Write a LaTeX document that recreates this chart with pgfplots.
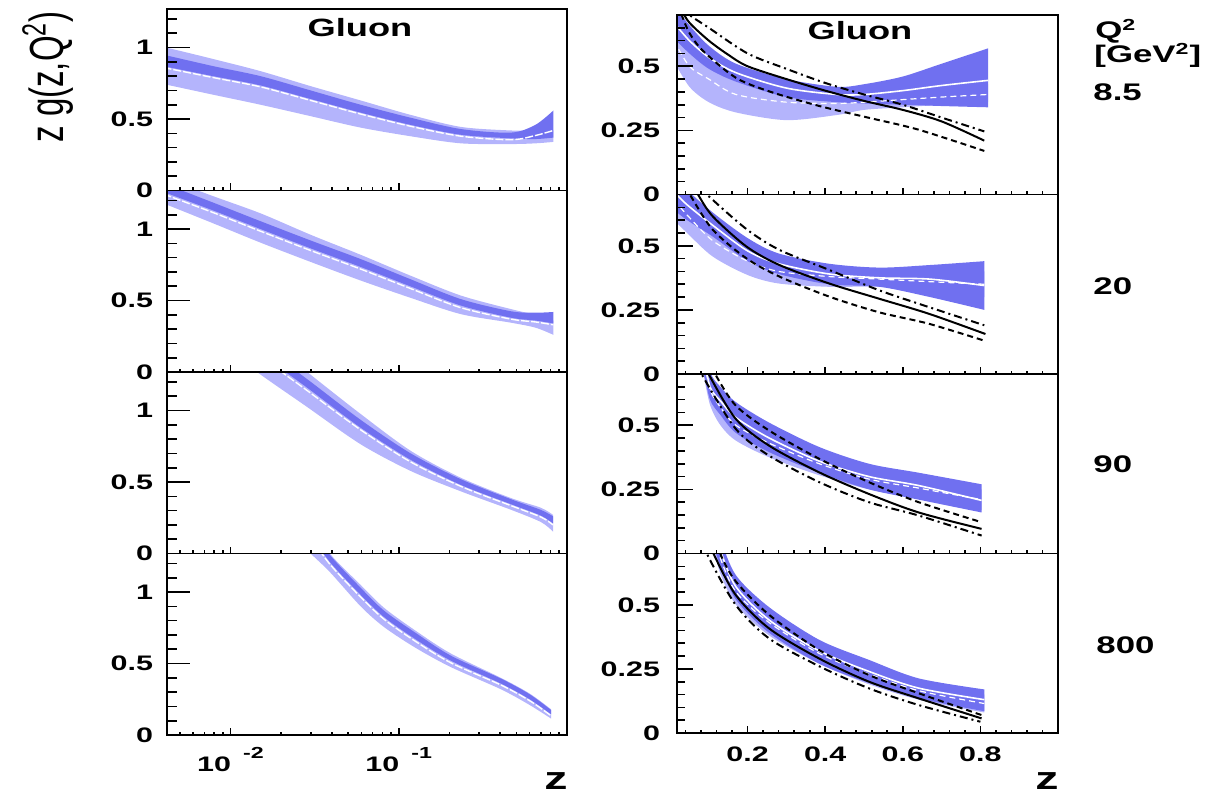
\documentclass[border=0pt]{standalone}
\usepackage{fontspec}
\setmainfont{Liberation Sans}[FakeStretch=1.45]
\newfontfamily\ylabfont{Liberation Sans}
\usepackage{graphicx}
\usepackage{pgfplots}
\pgfplotsset{compat=1.18}
\usepackage{pgfplotstable}
\usepgfplotslibrary{fillbetween}

\definecolor{lbc}{RGB}{180,180,252}
\definecolor{dbc}{RGB}{112,112,240}

% ---------- left column: x = log10(z) ----------
\pgfplotstableread{
lz llo lhi dlo dhi w
-2.398 0.745 1.005 0.87 0.95 0.86
-2.102 0.67  0.92  0.80 0.87 0.79
-1.821 0.60  0.835 0.735 0.80 0.725
-1.523 0.52  0.73  0.64 0.70 0.63
-1.226 0.44  0.63  0.545 0.60 0.535
-0.932 0.38  0.53  0.46 0.51 0.45
-0.631 0.33  0.445 0.39 0.43 0.38
-0.333 0.325 0.42  0.365 0.405 0.355
-0.187 0.33  0.42  0.36 0.46 0.385
-0.081 0.34  0.42  0.37 0.56 0.42
}\LA
\pgfplotstableread{
lz llo lhi dlo dhi w
-2.398 1.18  1.36  1.26 1.32 1.245
-2.102 1.04  1.23  1.13 1.185 1.115
-1.821 0.905 1.11  1.00 1.055 0.985
-1.523 0.77  0.96  0.865 0.92 0.85
-1.226 0.64  0.82  0.735 0.79 0.72
-0.932 0.52  0.675 0.60 0.65 0.585
-0.631 0.405 0.535 0.465 0.51 0.45
-0.333 0.345 0.44  0.38 0.425 0.37
-0.187 0.31  0.40  0.36 0.415 0.35
-0.081 0.26  0.36  0.34 0.42 0.33
}\LB
\pgfplotstableread{
lz llo lhi dlo dhi w
-1.921 1.36  1.70  1.55 1.62 1.52
-1.842 1.27  1.55  1.42 1.48 1.40
-1.544 1.025 1.27  1.16 1.22 1.14
-1.226 0.764 0.976 0.88 0.935 0.865
-0.928 0.577 0.718 0.655 0.70 0.64
-0.631 0.435 0.53  0.48 0.52 0.47
-0.333 0.306 0.388 0.345 0.38 0.335
-0.155 0.22  0.32  0.265 0.305 0.255
-0.083 0.153 0.27  0.21 0.26 0.20
}\LC
\pgfplotstableread{
lz llo lhi dlo dhi w
-1.585 1.36  1.60  1.48 1.55 1.46
-1.523 1.27  1.50  1.40 1.46 1.38
-1.409 1.14  1.27  1.21 1.26 1.195
-1.226 0.90  1.05  0.98 1.03 0.965
-1.087 0.755 0.89  0.825 0.87 0.81
-0.900 0.61  0.73  0.67 0.715 0.655
-0.690 0.475 0.57  0.52 0.555 0.505
-0.393 0.32  0.40  0.36 0.395 0.35
-0.222 0.21  0.29  0.25 0.285 0.24
-0.095 0.115 0.18  0.145 0.175 0.135
}\LD

% ---------- right column (linear z) ----------
\pgfplotstableread{
lz llo lhi dlo dhi wd wl
0.010 0.52 0.72 0.61 0.74 0.67 0.60
0.05  0.42 0.62 0.55 0.66 0.60 0.50
0.10  0.36 0.55 0.49 0.58 0.535 0.45
0.17  0.32 0.48 0.44 0.51 0.475 0.39
0.30  0.29 0.44 0.38 0.45 0.415 0.36
0.43  0.31 0.405 0.36 0.42 0.39 0.355
0.50  0.33 0.40 0.355 0.43 0.39 0.36
0.60  0.34 0.40 0.35 0.46 0.405 0.37
0.70  0.35 0.41 0.345 0.51 0.425 0.38
0.82  0.36 0.43 0.34 0.57 0.445 0.39
}\RA
\pgfplotstableread{
lz llo lhi dlo dhi wd wl
0.010 0.60 0.80 0.64 0.80 0.71 0.68
0.044 0.55 0.70 0.60 0.72 0.66 0.62
0.11  0.458 0.60 0.536 0.63 0.58 0.52
0.20  0.386 0.50 0.44 0.53 0.48 0.44
0.28  0.353 0.445 0.39 0.47 0.43 0.40
0.41  0.34 0.42 0.35 0.43 0.39 0.38
0.54  0.34 0.40 0.34 0.415 0.375 0.37
0.67  0.32 0.40 0.30 0.425 0.37 0.36
0.81  0.30 0.40 0.25 0.44 0.345 0.35
}\RB
\pgfplotstableread{
lz llo lhi dlo dhi wd wl
0.085 0.71 0.86 0.72 0.87 0.79 0.78
0.103 0.58 0.71 0.60 0.71 0.65 0.64
0.13  0.50 0.64 0.54 0.65 0.595 0.57
0.17  0.44 0.565 0.47 0.59 0.53 0.50
0.256 0.375 0.49 0.395 0.51 0.45 0.43
0.385 0.305 0.40 0.315 0.415 0.36 0.35
0.513 0.25 0.335 0.25 0.35 0.30 0.29
0.641 0.215 0.30 0.21 0.315 0.265 0.255
0.803 0.17 0.25 0.16 0.27 0.207 0.21
}\RC
\pgfplotstableread{
lz llo lhi dlo dhi wd wl
0.115 0.71 0.85 0.72 0.86 0.78 0.76
0.13  0.62 0.74 0.65 0.76 0.71 0.68
0.17  0.50 0.60 0.52 0.615 0.57 0.55
0.256 0.38 0.48 0.39 0.49 0.44 0.43
0.385 0.27 0.35 0.27 0.363 0.32 0.31
0.513 0.19 0.27 0.195 0.285 0.24 0.23
0.641 0.13 0.20 0.135 0.213 0.175 0.165
0.81  0.08 0.15 0.085 0.17 0.13 0.115
}\RD

\newcommand\bands[2]{%
  \addplot[draw=none, smooth, name path=#2a] table[x=lz,y=lhi]{#1};
  \addplot[draw=none, smooth, name path=#2b] table[x=lz,y=llo]{#1};
  \addplot[fill=lbc, draw=none] fill between[of=#2a and #2b];
  \addplot[draw=none, smooth, name path=#2c] table[x=lz,y=dhi]{#1};
  \addplot[draw=none, smooth, name path=#2d] table[x=lz,y=dlo]{#1};
  \addplot[fill=dbc, draw=none] fill between[of=#2c and #2d];
}
\newcommand\lwhite[1]{%
  \addplot[white, line width=0.7pt, smooth, dash pattern=on 4pt off 1pt] table[x=lz,y=w]{#1};}
\newcommand\rwhite[1]{%
  \addplot[white, line width=0.6pt, smooth, dash pattern=on 3pt off 2pt] table[x=lz,y=wl]{#1};
  \addplot[white, line width=0.8pt, smooth] table[x=lz,y=wd]{#1};}

\pgfkeys{/pgf/number format/assume math mode=true}
\pgfplotsset{
  panel/.style={scale only axis, axis on top, anchor=north west,
    tick pos=left, tick align=inside,
    axis line style={line width=0.9pt},
    tick style={black, line width=0.8pt},
    ticklabel style={font=\bfseries\fontsize{10.5}{12}\selectfont},
    xtick style={/pgfplots/major tick length=3.5pt,/pgfplots/minor tick length=1.6pt},
  },
  Lp/.style={panel, width=200pt, height=90.75pt,
    xmin=-2.377, xmax=0, ymin=0, ymax=1.27,
    xtick={-2,-1},
    minor xtick={-2.301,-2.222,-2.155,-2.097,-2.046,-1.699,-1.523,-1.398,-1.301,-1.222,-1.155,-1.097,-1.046,-0.699,-0.523,-0.398,-0.301,-0.222,-0.155,-0.097,-0.046},
    ytick={0,0.5,1}, minor ytick={0.1,0.2,0.3,0.4,0.6,0.7,0.8,0.9,1.1,1.2},
    yticklabel style={xshift=-3.5pt},
    xticklabel style={yshift=-2.5pt},
    ytick style={/pgfplots/major tick length=11.5pt,/pgfplots/minor tick length=5pt}},
  Rp/.style={panel, width=190.5pt, height=89.75pt,
    xmin=0.018, xmax=1, ymin=0, ymax=0.7,
    xtick={0.2,0.4,0.6,0.8},
    minor xtick={0.04,0.08,0.12,0.16,0.24,0.28,0.32,0.36,0.44,0.48,0.52,0.56,0.64,0.68,0.72,0.76,0.84,0.88,0.92,0.96},
    ytick={0,0.25,0.5}, minor ytick={0.05,0.1,0.15,0.2,0.3,0.35,0.4,0.45,0.55,0.6,0.65},
    yticklabel style={xshift=-5pt},
    xticklabel style={yshift=-3.5pt},
    ytick style={/pgfplots/major tick length=8pt,/pgfplots/minor tick length=4pt}},
  bsolid/.style={black, line width=1pt, smooth},
  bdash/.style={black, line width=1pt, smooth, dash pattern=on 3pt off 2pt},
  bdashdot/.style={black, line width=1pt, smooth, dash pattern=on 4pt off 2pt on 1pt off 2pt},
}

\begin{document}
\begin{tikzpicture}

% ===== left column =====
\begin{axis}[Lp, at={(83.5pt,-4.5pt)}, xticklabels={}]
\bands{\LA}{pa}\lwhite{\LA}
\end{axis}
\begin{axis}[Lp, at={(83.5pt,-95.25pt)}, xticklabels={}]
\bands{\LB}{pb}\lwhite{\LB}
\end{axis}
\begin{axis}[Lp, at={(83.5pt,-186pt)}, xticklabels={}]
\bands{\LC}{pc}\lwhite{\LC}
\end{axis}
\begin{axis}[Lp, at={(83.5pt,-276.75pt)},
  xticklabels={{10\hspace{6pt}\raisebox{6.5pt}{\fontsize{8}{9}\selectfont -2}},{10\hspace{6pt}\raisebox{6.5pt}{\fontsize{8}{9}\selectfont -1}}}]
\bands{\LD}{pd}\lwhite{\LD}
\end{axis}

% ===== right column =====
\begin{axis}[Rp, at={(338.5pt,-7.5pt)}, xticklabels={}]
\bands{\RA}{qa}\rwhite{\RA}
\addplot[bsolid] coordinates {(0.02,0.76)(0.03,0.72)(0.05,0.67)(0.1,0.60)(0.15,0.545)(0.2,0.50)(0.3,0.45)(0.4,0.405)(0.5,0.365)(0.6,0.33)(0.7,0.285)(0.81,0.21)};
\addplot[bdashdot] coordinates {(0.03,0.73)(0.05,0.70)(0.1,0.65)(0.2,0.55)(0.3,0.49)(0.4,0.435)(0.5,0.39)(0.6,0.35)(0.7,0.30)(0.81,0.246)};
\addplot[bdash] coordinates {(0.02,0.74)(0.03,0.70)(0.05,0.63)(0.085,0.56)(0.17,0.455)(0.26,0.40)(0.385,0.345)(0.51,0.30)(0.64,0.253)(0.81,0.17)};
\end{axis}
\begin{axis}[Rp, at={(338.5pt,-97.25pt)}, xticklabels={}]
\bands{\RB}{qb}\rwhite{\RB}
\addplot[bsolid] coordinates {(0.06,0.73)(0.072,0.70)(0.11,0.615)(0.197,0.497)(0.282,0.425)(0.41,0.353)(0.538,0.294)(0.667,0.235)(0.813,0.156)};
\addplot[bdashdot] coordinates {(0.08,0.73)(0.095,0.70)(0.197,0.565)(0.282,0.484)(0.41,0.406)(0.538,0.327)(0.667,0.261)(0.81,0.19)};
\addplot[bdash] coordinates {(0.04,0.73)(0.051,0.70)(0.11,0.563)(0.197,0.451)(0.282,0.38)(0.41,0.302)(0.538,0.241)(0.667,0.196)(0.81,0.13)};
\end{axis}
\begin{axis}[Rp, at={(338.5pt,-187pt)}, xticklabels={}]
\bands{\RC}{qc}\rwhite{\RC}
\addplot[bsolid] coordinates {(0.09,0.74)(0.103,0.69)(0.17,0.524)(0.256,0.42)(0.385,0.316)(0.513,0.232)(0.641,0.16)(0.803,0.096)};
\addplot[bdash] coordinates {(0.11,0.73)(0.12,0.69)(0.17,0.576)(0.256,0.479)(0.385,0.369)(0.513,0.278)(0.641,0.2)(0.803,0.122)};
\addplot[bdashdot] coordinates {(0.075,0.74)(0.085,0.69)(0.17,0.485)(0.256,0.381)(0.385,0.278)(0.513,0.2)(0.641,0.148)(0.803,0.07)};
\end{axis}
\begin{axis}[Rp, at={(338.5pt,-276.75pt)}]
\bands{\RD}{qd}\rwhite{\RD}
\addplot[bsolid] coordinates {(0.105,0.74)(0.115,0.69)(0.17,0.537)(0.256,0.407)(0.385,0.29)(0.513,0.2)(0.641,0.135)(0.803,0.057)};
\addplot[bdash] coordinates {(0.125,0.74)(0.132,0.69)(0.17,0.59)(0.256,0.46)(0.385,0.323)(0.513,0.226)(0.641,0.155)(0.803,0.07)};
\addplot[bdashdot] coordinates {(0.09,0.74)(0.098,0.69)(0.17,0.498)(0.256,0.368)(0.385,0.26)(0.513,0.174)(0.641,0.109)(0.80,0.044)};
\end{axis}

% ===== texts =====
\node[font=\bfseries\fontsize{12.5}{14}\selectfont] at (180pt,-14pt) {Gluon};
\node[font=\bfseries\fontsize{12.5}{14}\selectfont] at (430pt,-15.5pt) {Gluon};
\node[rotate=90, font=\ylabfont\fontsize{16.5}{18}\selectfont] at (24pt,-38.5pt) {\scalebox{1}[1.45]{z g(z,Q\textsuperscript{2})}};
\node[anchor=base west, font=\bfseries\fontsize{12}{14}\selectfont, inner sep=0pt] at (547.5pt,-19.5pt) {Q\textsuperscript{2}};
\node[anchor=base west, font=\bfseries\fontsize{12}{14}\selectfont, inner sep=0pt] at (547pt,-31.5pt) {[GeV\textsuperscript{2}]};
\node[anchor=base west, font=\bfseries\fontsize{12}{14}\selectfont, inner sep=0pt] at (546.5pt,-50.5pt) {8.5};
\node[anchor=base west, font=\bfseries\fontsize{12}{14}\selectfont, inner sep=0pt] at (546.5pt,-147.5pt) {20};
\node[anchor=base west, font=\bfseries\fontsize{12}{14}\selectfont, inner sep=0pt] at (546.5pt,-236.5pt) {90};
\node[anchor=base west, font=\bfseries\fontsize{12}{14}\selectfont, inner sep=0pt] at (548pt,-326.5pt) {800};
\node[anchor=base, font=\bfseries\fontsize{16}{18}\selectfont, inner sep=0pt] at (278pt,-394.5pt) {z};
\node[anchor=base, font=\bfseries\fontsize{16}{18}\selectfont, inner sep=0pt] at (523.5pt,-394.5pt) {z};

\pgfresetboundingbox
\path[use as bounding box] (0,0) rectangle (604pt,-397.5pt);
\end{tikzpicture}
\end{document}
